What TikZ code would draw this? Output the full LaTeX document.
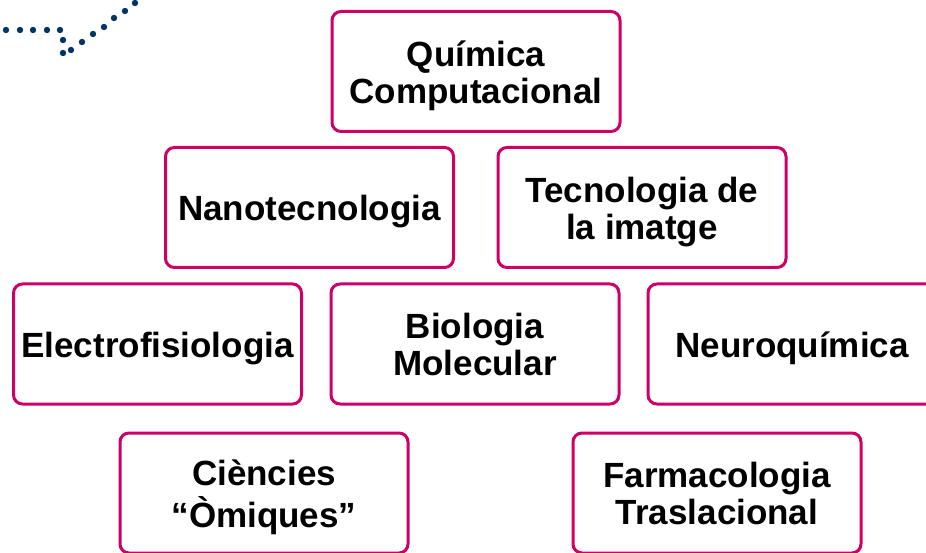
\documentclass[tikz,border=0pt]{standalone}
\usepackage{fontspec}
\setmainfont{Liberation Sans}
\definecolor{boxpink}{RGB}{204,0,102}
\definecolor{dotblue}{RGB}{0,51,102}
% lower the ink a little, keep the box size
\newcommand{\fieldtext}[1]{\raisebox{-6pt}[\height][\depth]{\begin{tabular}{@{}c@{}}#1\end{tabular}}}
\begin{document}
\begin{tikzpicture}[x=1pt,y=-1pt,
        field/.style={draw=boxpink, line width=3pt, rounded corners=9pt, fill=white,
            minimum width=288pt, minimum height=120pt,
            font=\fontsize{35}{37}\selectfont\bfseries, text=black}]
        \useasboundingbox (0,0) rectangle (926,553);
        \clip (0,0) rectangle (926,553);

        % dotted curve top left
        \foreach \px/\py in {6/30, 20/30, 33/30, 47/30, 60/30, 63/40, 63/53, 71/50,
            82/42, 93/34, 104/27, 114/18, 125/11, 135/3}
            \fill[dotblue] (\px,\py) circle (3.2);

        \node[field] (quimica) at (476,71.5) {\fieldtext{Química\\Computacional}};
        \node[field] (nano) at (309.5,207.5) {\fieldtext{Nanotecnologia}};
        \node[field] (imatge) at (642,207.5) {\fieldtext{Tecnologia de\\la imatge}};
        \node[field] (electro) at (157.5,344) {\fieldtext{Electrofisiologia}};
        \node[field] (biologia) at (475,344) {\fieldtext{Biologia\\Molecular}};
        \node[field] (neuro) at (792,344) {\fieldtext{Neuroquímica}};
        \node[field] (omiques) at (264,493) {\fieldtext{Ciències\\“Òmiques”}};
        \node[field] (farmaco) at (717,493) {\fieldtext{Farmacologia\\Traslacional}};
    \end{tikzpicture}
\end{document}
